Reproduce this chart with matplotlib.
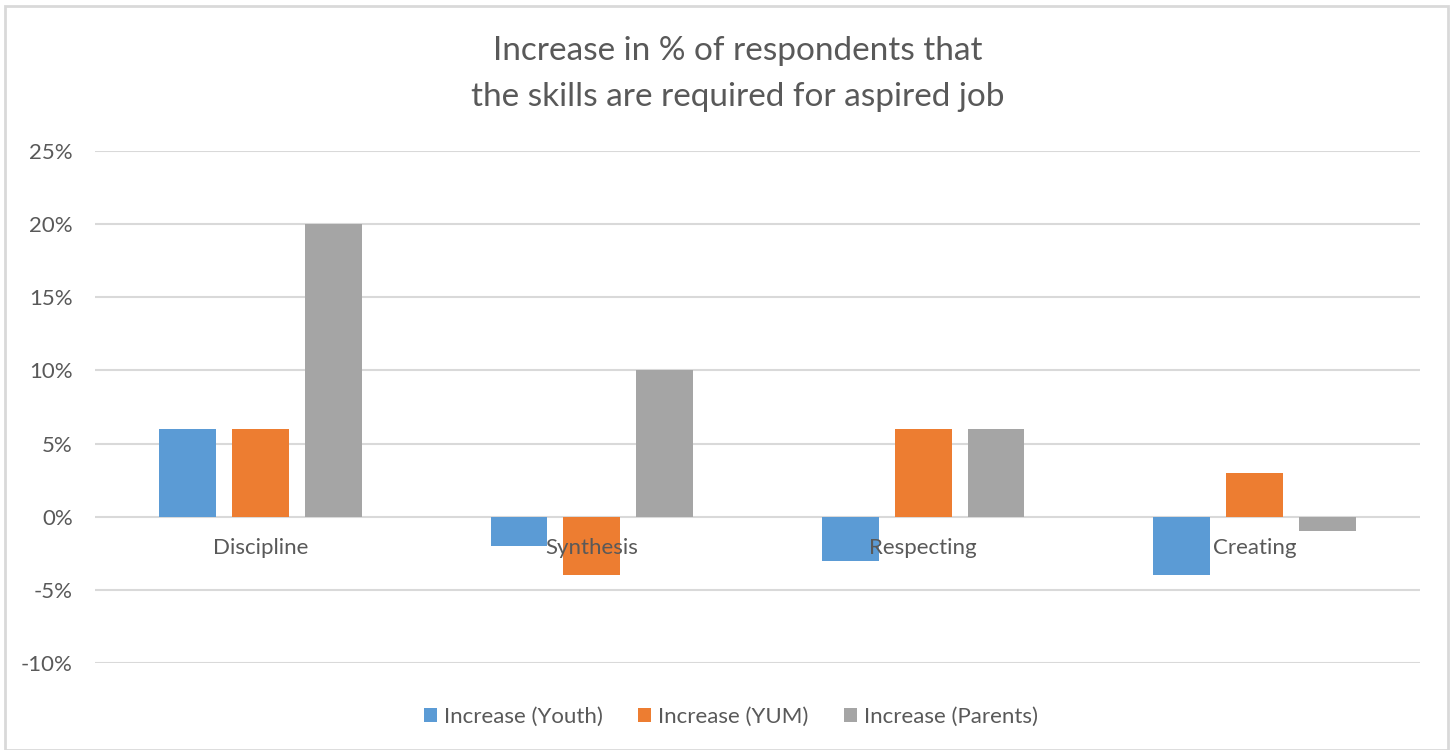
#Grouped bar chart: increase in % of respondents per skill, three groups


import numpy as np
from matplotlib import pyplot as plt
from matplotlib.patches import Rectangle
from matplotlib.ticker import FuncFormatter


#Data (percent)
categories = ['Discipline', 'Synthesis', 'Respecting', 'Creating']
series_names = ['Increase (Youth)', 'Increase (YUM)', 'Increase (Parents)']
youth = [6, -2, -3, -4]
yum = [6, -4, 6, 3]
parents = [20, 10, 6, -1]
y_ticks = [-10, -5, 0, 5, 10, 15, 20, 25]

colors = ['#5B9BD5', '#ED7D31', '#A5A5A5']
text_color = '#595959'
grid_color = '#D9D9D9'

plt.rcParams['font.family'] = ['Lato', 'DejaVu Sans']


fig = plt.figure(figsize=(14.52, 7.5), dpi=100)
ax = fig.add_axes([95/1452, 1 - 663/750, (1420 - 95)/1452, (663 - 151)/750])

#Outer chart border
fig.patches.append(Rectangle((5/1452, 0), 1443/1452, 744/750, transform=fig.transFigure,
                             fill=False, edgecolor=grid_color, linewidth=2))

x = np.arange(len(categories))
width = 0.172
step = 0.22

for i, (vals, name) in enumerate(zip([youth, yum, parents], series_names)):
    ax.bar(x + (i - 1)*step, vals, width, color=colors[i], label=name, zorder=2)

ax.set_xlim(-0.5, len(categories) - 0.5)
ax.set_ylim(y_ticks[0], y_ticks[-1])
ax.set_yticks(y_ticks)
ax.yaxis.set_major_formatter(FuncFormatter(lambda v, p: '%d%%' % v))
ax.tick_params(axis='y', length=0, pad=16, labelsize=16, labelcolor=text_color)
ax.set_xticks([])

ax.grid(axis='y', color=grid_color, linewidth=1.5, zorder=0)
ax.set_axisbelow(True)
for s in ax.spines.values():
    s.set_visible(False)

#Category labels sit just under the zero line, drawn over the bars
for xi, cat in zip(x, categories):
    ax.annotate(cat, (xi, 0), xytext=(0, -22.5), textcoords='offset points',
                ha='center', va='center', fontsize=16, color=text_color, zorder=5)

fig.text(738/1452, 1 - 74/750, 'Increase in % of respondents that\nthe skills are required for aspired job',
         ha='center', va='center', fontsize=24, color=text_color, linespacing=1.65)

leg = fig.legend(loc='center', bbox_to_anchor=(731/1452, 1 - 717/750), ncol=3, frameon=False,
                 fontsize=16, handlelength=0.59, handleheight=0.59, handletextpad=0.3,
                 columnspacing=1.6)
for t in leg.get_texts():
    t.set_color(text_color)

fig.savefig('out.png', dpi=100)
